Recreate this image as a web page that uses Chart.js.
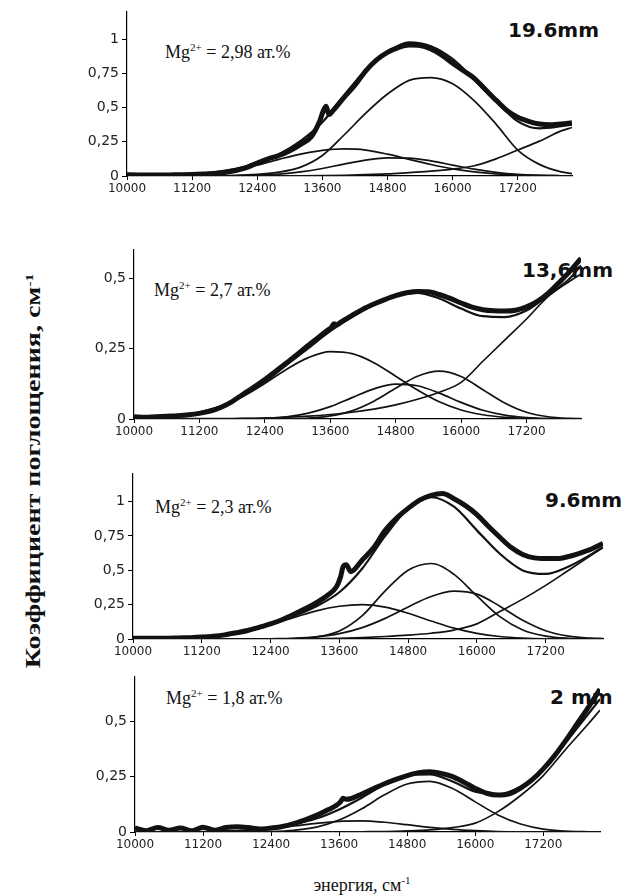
<!DOCTYPE html>
<html>
<head>
<meta charset="utf-8">
<script src="https://cdn.jsdelivr.net/npm/chart.js@4.4.0/dist/chart.umd.min.js"></script>
<style>
  body { margin: 0; background: #fff; }
  #page { position: relative; width: 624px; height: 895px; overflow: hidden; background: #fff; }
  canvas { position: absolute; z-index: 2; }
  .mg { position: absolute; z-index: 1; font-family: "Liberation Serif", "Times New Roman", serif; font-size: 18px; line-height: 20px; color: #111; white-space: nowrap; }
  .mg sup, .axt sup { font-size: 11px; line-height: 0; vertical-align: 7px; }
  .mm { position: absolute; z-index: 1; font-family: "DejaVu Sans", sans-serif; font-weight: bold; font-size: 20px; line-height: 22px; color: #111; white-space: nowrap; }
  .axt { position: absolute; z-index: 1; font-family: "Liberation Serif", "Times New Roman", serif; color: #111; white-space: nowrap; text-align: center; }
  #ytitle { left: -197px; top: 459px; width: 460px; height: 24px; line-height: 24px; font-size: 20px; font-weight: bold; transform: rotate(-90deg) scaleX(1.4); }
  #xtitle { left: 262px; top: 874px; width: 200px; line-height: 22px; font-size: 18px; }
</style>
</head>
<body>
<div id="page">
  <div class="mg" style="left:165px; top:42px;">Mg<sup>2+</sup> = 2,98 ат.%</div>
  <div class="mg" style="left:154px; top:280px;">Mg<sup>2+</sup> = 2,7 ат.%</div>
  <div class="mg" style="left:155px; top:497px;">Mg<sup>2+</sup> = 2,3 ат.%</div>
  <div class="mg" style="left:166px; top:688px;">Mg<sup>2+</sup> = 1,8 ат.%</div>
  <div class="mm" style="left:508px; top:19px;">19.6mm</div>
  <div class="mm" style="left:522px; top:259px;">13,6mm</div>
  <div class="mm" style="left:545px; top:489px;">9.6mm</div>
  <div class="mm" style="left:550px; top:686px;">2 mm</div>
  <div class="axt" id="ytitle">Коэффициент поглощения, см<sup>-1</sup></div>
  <div class="axt" id="xtitle">энергия, см<sup>-1</sup></div>
  <canvas id="chart1"></canvas>
  <canvas id="chart2"></canvas>
  <canvas id="chart3"></canvas>
  <canvas id="chart4"></canvas>
</div>
<script>
// Сетка по энергии (см-1) для компонент и суммы
const energy = [10000, 10400, 10800, 11200, 11600, 12000, 12400, 12800, 13200, 13600, 14000,
                14400, 14800, 15200, 15600, 16000, 16400, 16800, 17200, 17600, 18000, 18200];
// Сетка для экспериментальной кривой (гуще около пика 13650)
const expEnergy = [10000, 10200, 10400, 10600, 10800, 11000, 11200, 11400, 11600, 11800, 12000,
                   12200, 12400, 12600, 12800, 13000, 13200, 13400, 13550, 13620, 13670, 13720,
                   13800, 14000, 14200, 14400, 14600, 14800, 15000, 15200, 15400, 15600, 15800,
                   16000, 16200, 16400, 16600, 16800, 17000, 17200, 17400, 17600, 17800, 18000, 18200];
const xTicks = [10000, 11200, 12400, 13600, 14800, 16000, 17200];
const yTicksTall = [0, 0.25, 0.5, 0.75, 1];
const yTicksShort = [0, 0.25, 0.5];

// 19.6mm
const p1Exp = [0.010, 0.008, 0.008, 0.007, 0.008, 0.009, 0.011, 0.014, 0.018, 0.026, 0.040,
               0.062, 0.095, 0.125, 0.150, 0.185, 0.232, 0.290, 0.400, 0.480, 0.510, 0.450,
               0.480, 0.575, 0.665, 0.770, 0.850, 0.905, 0.940, 0.958, 0.955, 0.930, 0.885,
               0.825, 0.770, 0.715, 0.635, 0.555, 0.480, 0.430, 0.400, 0.380, 0.375, 0.380, 0.390];
const p1Fit = [0.002, 0.004, 0.008, 0.015, 0.027, 0.052, 0.094, 0.160, 0.257, 0.393, 0.590,
               0.776, 0.908, 0.978, 0.950, 0.857, 0.705, 0.548, 0.400, 0.349, 0.364, 0.375];
const p1Band1 = [0, 0, 0, 0, 0.001, 0.004, 0.012, 0.028, 0.065, 0.150, 0.300,
                 0.460, 0.600, 0.700, 0.720, 0.675, 0.550, 0.380, 0.190, 0.085, 0.030, 0.018];
const p1Band2 = [0.002, 0.004, 0.008, 0.015, 0.025, 0.047, 0.080, 0.122, 0.160, 0.187, 0.198,
                 0.190, 0.160, 0.122, 0.084, 0.052, 0.030, 0.016, 0.008, 0.004, 0.002, 0.001];
const p1Band3 = [0, 0, 0, 0, 0, 0.002, 0.006, 0.014, 0.030, 0.055, 0.087,
                 0.116, 0.133, 0.131, 0.111, 0.080, 0.050, 0.027, 0.012, 0.005, 0.002, 0.001];
const p1Edge = [0, 0, 0, 0, 0.001, 0.001, 0.001, 0.002, 0.002, 0.003, 0.005,
                0.010, 0.015, 0.025, 0.035, 0.050, 0.075, 0.125, 0.190, 0.255, 0.330, 0.355];

// 13,6mm
const p2Exp = [0.008, 0.006, 0.008, 0.010, 0.012, 0.015, 0.020, 0.028, 0.042, 0.062, 0.088,
               0.113, 0.140, 0.170, 0.200, 0.230, 0.262, 0.292, 0.315, 0.325, 0.338, 0.335,
               0.345, 0.368, 0.390, 0.408, 0.424, 0.438, 0.448, 0.453, 0.452, 0.442, 0.428,
               0.412, 0.397, 0.388, 0.384, 0.383, 0.386, 0.398, 0.418, 0.447, 0.485, 0.525, 0.570];
const p2Fit = [0.002, 0.005, 0.011, 0.024, 0.046, 0.083, 0.132, 0.192, 0.252, 0.312, 0.362,
               0.405, 0.437, 0.448, 0.428, 0.392, 0.365, 0.362, 0.385, 0.440, 0.500, 0.545];
const p2Band1 = [0.001, 0.004, 0.010, 0.023, 0.045, 0.080, 0.126, 0.177, 0.218, 0.239, 0.232,
                 0.200, 0.152, 0.103, 0.061, 0.032, 0.015, 0.006, 0.002, 0.001, 0, 0];
const p2Band2 = [0, 0, 0, 0, 0, 0.001, 0.003, 0.008, 0.021, 0.044, 0.076,
                 0.107, 0.124, 0.118, 0.092, 0.059, 0.031, 0.014, 0.005, 0.001, 0, 0];
const p2Band3 = [0, 0, 0, 0, 0, 0, 0, 0.001, 0.003, 0.011, 0.029,
                 0.063, 0.109, 0.152, 0.170, 0.151, 0.104, 0.057, 0.024, 0.008, 0.002, 0.001];
const p2Edge = [0.001, 0.001, 0.001, 0.001, 0.001, 0.002, 0.003, 0.006, 0.010, 0.016, 0.024,
                0.035, 0.050, 0.070, 0.095, 0.130, 0.205, 0.280, 0.355, 0.435, 0.490, 0.515];

// 9.6mm
const p3Exp = [0.005, 0.005, 0.005, 0.006, 0.008, 0.010, 0.014, 0.020, 0.030, 0.045, 0.062,
               0.085, 0.110, 0.140, 0.178, 0.220, 0.265, 0.320, 0.380, 0.450, 0.530, 0.540,
               0.490, 0.575, 0.665, 0.790, 0.880, 0.950, 1.010, 1.045, 1.058, 1.020, 0.970,
               0.905, 0.820, 0.740, 0.665, 0.615, 0.590, 0.585, 0.585, 0.600, 0.625, 0.655, 0.695];
const p3Fit = [0.001, 0.002, 0.006, 0.014, 0.030, 0.062, 0.109, 0.165, 0.238, 0.340, 0.513,
               0.750, 0.948, 1.031, 0.962, 0.790, 0.620, 0.499, 0.473, 0.527, 0.617, 0.668];
const p3Band1 = [0.001, 0.002, 0.006, 0.014, 0.030, 0.062, 0.105, 0.155, 0.205, 0.238, 0.250,
                 0.232, 0.187, 0.131, 0.079, 0.041, 0.018, 0.007, 0.002, 0.001, 0, 0];
const p3Band2 = [0, 0, 0, 0, 0, 0, 0.001, 0.003, 0.015, 0.058, 0.170,
                 0.350, 0.500, 0.549, 0.470, 0.313, 0.163, 0.066, 0.021, 0.005, 0.001, 0];
const p3Band3 = [0, 0, 0, 0, 0, 0, 0.002, 0.005, 0.015, 0.039, 0.083,
                 0.150, 0.233, 0.309, 0.348, 0.326, 0.239, 0.136, 0.060, 0.021, 0.006, 0.003];
const p3Edge = [0, 0, 0, 0, 0, 0, 0.001, 0.002, 0.003, 0.005, 0.010,
                0.018, 0.028, 0.042, 0.065, 0.110, 0.200, 0.290, 0.390, 0.500, 0.610, 0.665];

// 2 mm
const p4Exp = [0.018, 0.006, 0.020, 0.008, 0.018, 0.006, 0.022, 0.008, 0.020, 0.024, 0.020,
               0.013, 0.018, 0.025, 0.038, 0.055, 0.075, 0.100, 0.120, 0.135, 0.152, 0.148,
               0.150, 0.172, 0.195, 0.218, 0.238, 0.255, 0.268, 0.272, 0.265, 0.250, 0.225,
               0.197, 0.175, 0.167, 0.172, 0.198, 0.235, 0.285, 0.345, 0.415, 0.490, 0.565, 0.645];
const p4Fit = [0, 0, 0, 0.001, 0.004, 0.008, 0.018, 0.035, 0.061, 0.102, 0.155,
               0.214, 0.255, 0.260, 0.228, 0.182, 0.171, 0.205, 0.280, 0.405, 0.535, 0.600];
const p4Band1 = [0, 0, 0, 0.001, 0.004, 0.008, 0.016, 0.027, 0.039, 0.048, 0.050,
                 0.044, 0.033, 0.021, 0.012, 0.006, 0.002, 0.001, 0, 0, 0, 0];
const p4Band2 = [0, 0, 0, 0, 0, 0, 0.002, 0.008, 0.022, 0.054, 0.105,
                 0.168, 0.217, 0.229, 0.196, 0.136, 0.077, 0.036, 0.013, 0.004, 0.001, 0];
const p4Edge = [0, 0, 0, 0, 0, 0, 0, 0, 0, 0, 0.001,
                0.002, 0.005, 0.010, 0.020, 0.040, 0.092, 0.165, 0.255, 0.375, 0.490, 0.550];

Chart.defaults.font.family = '"DejaVu Sans", sans-serif';

const CANVAS_LEFT = 70;
const PAD_TOP = 14;
const AXIS_H = 30;

function points(xs, ys) {
    return xs.map((x, i) => ({ x: x, y: ys[i] }));
}

function lineSet(xs, ys, width) {
    return {
        data: points(xs, ys),
        borderColor: '#121212',
        borderWidth: width,
        pointRadius: 0,
        fill: false,
        cubicInterpolationMode: 'monotone'
    };
}

function buildChart(id, box, yMax, yTicks, expVals, fitVals, bands) {
    const canvas = document.getElementById(id);
    const w = 624 - CANVAS_LEFT;
    const h = PAD_TOP + (box.bottom - box.top) + AXIS_H;
    canvas.width = w;
    canvas.height = h;
    canvas.style.width = w + 'px';
    canvas.style.height = h + 'px';
    canvas.style.left = CANVAS_LEFT + 'px';
    canvas.style.top = (box.top - PAD_TOP) + 'px';

    const datasets = bands.map(b => lineSet(energy, b, 1.7));
    datasets.push(lineSet(energy, fitVals, 2.2));
    datasets.push(lineSet(expEnergy, expVals, 5));

    new Chart(canvas, {
        type: 'line',
        data: { datasets: datasets },
        options: {
            responsive: false,
            animation: false,
            layout: { padding: { top: PAD_TOP, right: 624 - box.right, left: 0, bottom: 0 } },
            plugins: { legend: { display: false }, tooltip: { enabled: false } },
            scales: {
                x: {
                    type: 'linear',
                    min: 10000,
                    max: 18200,
                    afterBuildTicks: s => { s.ticks = xTicks.map(v => ({ value: v })); },
                    afterFit: s => { s.height = AXIS_H; },
                    grid: { drawOnChartArea: false, tickLength: 4, color: '#000' },
                    border: { color: '#000', width: 1.2 },
                    ticks: { color: '#222', font: { size: 12 }, padding: 2, maxRotation: 0, autoSkip: false,
                             callback: v => String(v) }
                },
                y: {
                    type: 'linear',
                    min: 0,
                    max: yMax,
                    afterBuildTicks: s => { s.ticks = yTicks.map(v => ({ value: v })); },
                    afterFit: s => { s.width = box.left - CANVAS_LEFT; },
                    grid: { drawOnChartArea: false, tickLength: 5, color: '#000' },
                    border: { color: '#000', width: 1.2 },
                    ticks: { color: '#222', font: { size: 14 }, padding: 3,
                             callback: v => String(v).replace('.', ',') }
                }
            }
        }
    });
}

buildChart('chart1', { left: 127, right: 572, top: 12, bottom: 176 }, 1.2, yTicksTall,
           p1Exp, p1Fit, [p1Band1, p1Band2, p1Band3, p1Edge]);
buildChart('chart2', { left: 134, right: 581, top: 250, bottom: 419 }, 0.6, yTicksShort,
           p2Exp, p2Fit, [p2Band1, p2Band2, p2Band3, p2Edge]);
buildChart('chart3', { left: 133, right: 603, top: 474, bottom: 639 }, 1.2, yTicksTall,
           p3Exp, p3Fit, [p3Band1, p3Band2, p3Band3, p3Edge]);
buildChart('chart4', { left: 135, right: 600, top: 677, bottom: 832 }, 0.7, yTicksShort,
           p4Exp, p4Fit, [p4Band1, p4Band2, p4Edge]);
</script>
</body>
</html>
